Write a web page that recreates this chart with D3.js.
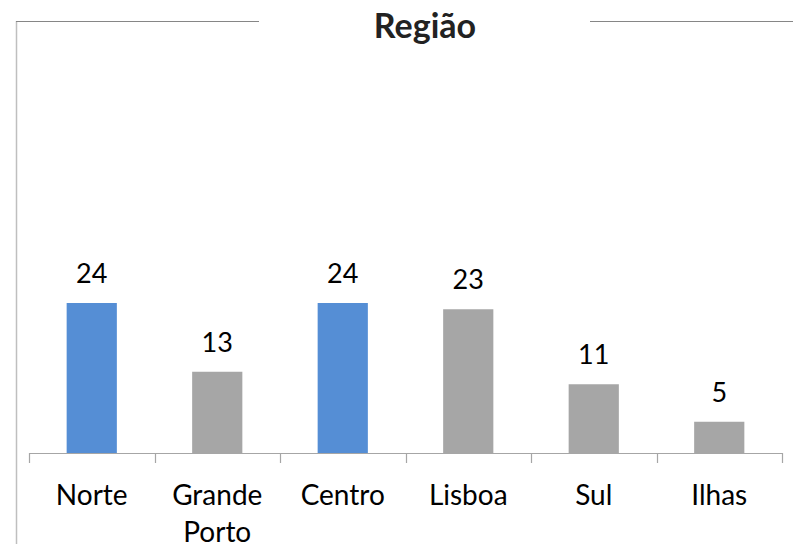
<!DOCTYPE html>
<html>
  <head>
    <title>Região</title>
    <script src="https://d3js.org/d3.v7.min.js"></script>
    <style>
      body { margin: 0; background: #fff; }
      text { font-family: Lato, "Open Sans", sans-serif; }
    </style>
  </head>
  <body>
  </body>
</html>

<script>
  var width = 793
  var height = 544

  // data
  var regioes = ["Norte", "Grande Porto", "Centro", "Lisboa", "Sul", "Ilhas"]
  var valores = [24, 13, 24, 23, 11, 5]
  var destaque = ["Norte", "Centro"]

  var x = d3.scaleBand()
            .domain(regioes)
            .range([29, 782])
            .paddingInner(0.6)
            .paddingOuter(0.3)

  var y = d3.scaleLinear()
            .domain([0, 24])
            .range([453, 303])

  var svg = d3.select("body")
              .append("svg")
              .attr("width", width)
              .attr("height", height)

  // chart frame (broken around title)
  svg.append("line")
     .attr("x1", 16.5).attr("x2", 16.5)
     .attr("y1", 21).attr("y2", height)
     .attr("stroke", "#bfbfbf").attr("stroke-width", 1.5)
  svg.append("line")
     .attr("x1", 16).attr("x2", 259)
     .attr("y1", 21.5).attr("y2", 21.5)
     .attr("stroke", "#868686").attr("stroke-width", 1)
  svg.append("line")
     .attr("x1", 590).attr("x2", width)
     .attr("y1", 21.5).attr("y2", 21.5)
     .attr("stroke", "#868686").attr("stroke-width", 1)

  svg.append("text")
     .attr("x", 425)
     .attr("y", 38)
     .attr("text-anchor", "middle")
     .style("font-size", "34px")
     .style("font-weight", "bold")
     .attr("fill", "#222")
     .text("Região")

  // bars
  svg.selectAll("rect.bar")
     .data(regioes)
     .enter()
     .append("rect")
     .attr("class", "bar")
     .attr("x", function(d) { return x(d) })
     .attr("width", x.bandwidth())
     .attr("y", function(d, i) { return y(valores[i]) })
     .attr("height", function(d, i) { return y(0) - y(valores[i]) })
     .attr("fill", function(d) { return destaque.indexOf(d) >= 0 ? "#558ed5" : "#a6a6a6" })

  // value labels
  svg.selectAll("text.val")
     .data(regioes)
     .enter()
     .append("text")
     .attr("class", "val")
     .attr("x", function(d) { return x(d) + x.bandwidth() / 2 })
     .attr("y", function(d, i) { return y(valores[i]) - 20 })
     .attr("text-anchor", "middle")
     .style("font-size", "27px")
     .attr("fill", "#000")
     .text(function(d, i) { return valores[i] })

  // x axis
  var edges = d3.range(regioes.length + 1).map(function(i) { return 29 + i * (782 - 29) / regioes.length })

  svg.append("line")
     .attr("x1", 29).attr("x2", 782)
     .attr("y1", 453.5).attr("y2", 453.5)
     .attr("stroke", "#a6a6a6").attr("stroke-width", 1.2)

  svg.selectAll("line.tick")
     .data(edges)
     .enter()
     .append("line")
     .attr("class", "tick")
     .attr("x1", function(d) { return Math.round(d) + 0.5 })
     .attr("x2", function(d) { return Math.round(d) + 0.5 })
     .attr("y1", 453).attr("y2", 463)
     .attr("stroke", "#a6a6a6").attr("stroke-width", 1.2)

  var cat = svg.selectAll("text.cat")
     .data(regioes)
     .enter()
     .append("text")
     .attr("class", "cat")
     .attr("text-anchor", "middle")
     .style("font-size", "28px")
     .attr("fill", "#000")

  cat.each(function(d) {
    var words = d.split(" ")
    var t = d3.select(this)
    words.forEach(function(w, j) {
      t.append("tspan")
       .attr("x", x(d) + x.bandwidth() / 2)
       .attr("y", 505 + j * 37)
       .text(w)
    })
  })
</script>
